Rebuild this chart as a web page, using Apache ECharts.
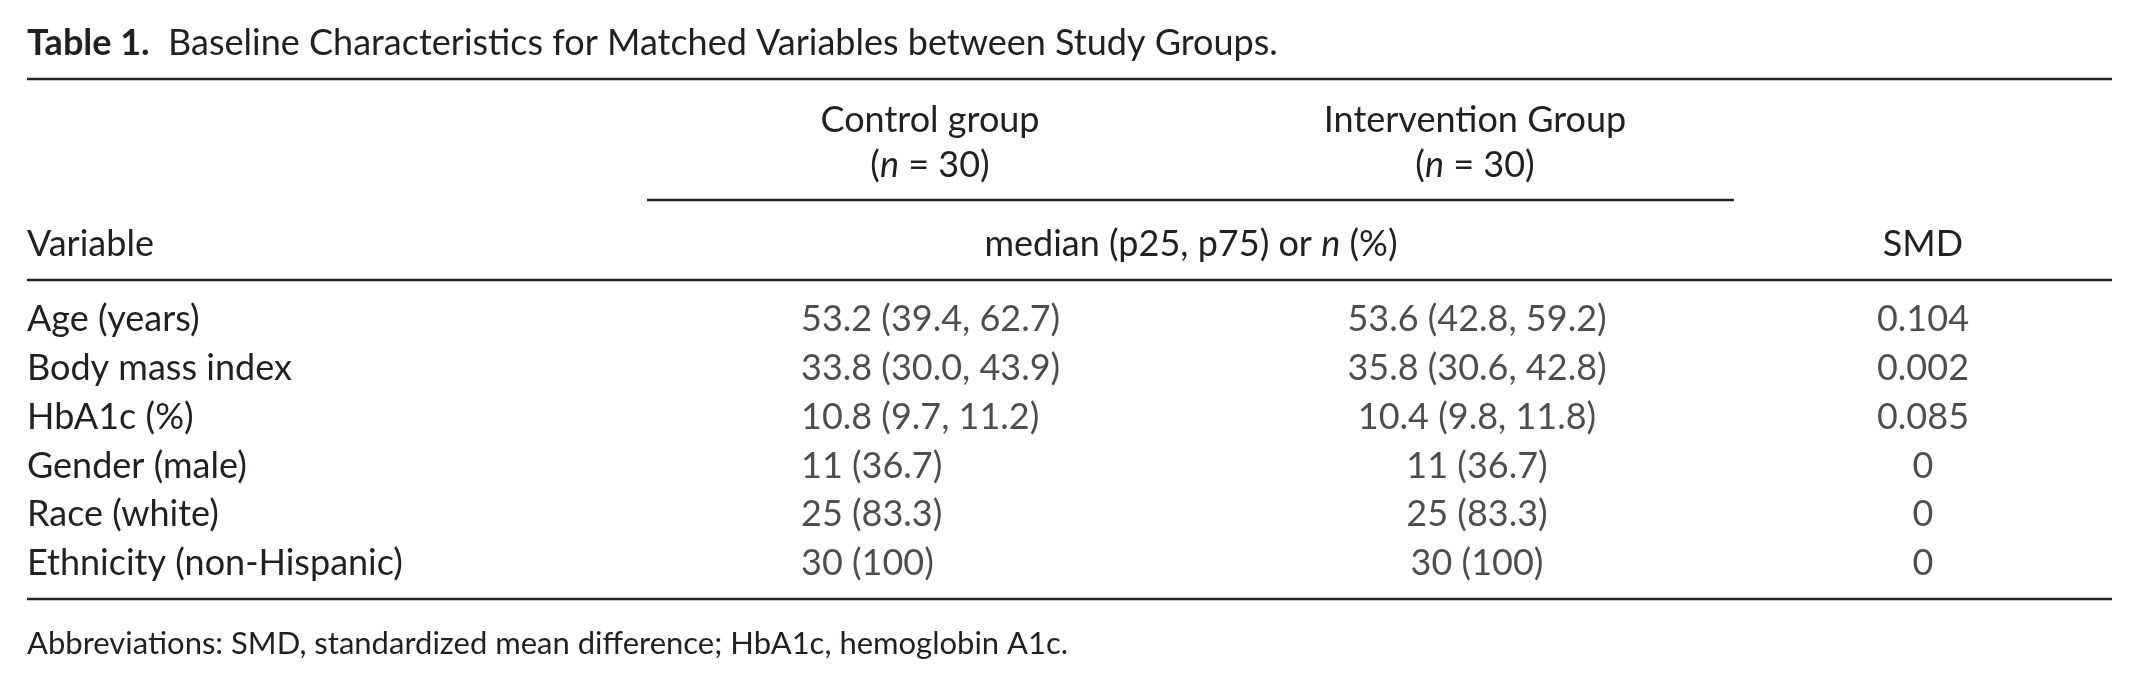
<!doctype html>
<html>
<head>
<meta charset="UTF-8">
<title>Table 1</title>
<script src="https://cdn.jsdelivr.net/npm/echarts@6/dist/echarts.min.js"></script>
<style>
	html, body { margin: 0; padding: 0; background: #fff; }
	#table1 { width: 2139px; height: 687px; }
</style>
</head>
<body>
<div id="table1"></div>
<script>
	// table content
	var variables = ['Age (years)', 'Body mass index', 'HbA1c (%)', 'Gender (male)', 'Race (white)', 'Ethnicity (non-Hispanic)'];
	var controlValues = ['53.2 (39.4, 62.7)', '33.8 (30.0, 43.9)', '10.8 (9.7, 11.2)', '11 (36.7)', '25 (83.3)', '30 (100)'];
	var interventionValues = ['53.6 (42.8, 59.2)', '35.8 (30.6, 42.8)', '10.4 (9.8, 11.8)', '11 (36.7)', '25 (83.3)', '30 (100)'];
	var smdValues = ['0.104', '0.002', '0.085', '0', '0', '0'];
	var groupNames = ['Control group', 'Intervention Group'];
	var groupN = [30, 30];

	var ink = '#231f20';
	var font = 'Lato';
	var bodySize = 36;

	// column anchors in page pixels (x axis spans the whole page)
	var colX = { control: 801, intervention: 1477, smd: 1923 };

	function column(values, x) {
		var out = [];
		for (var i = 0; i < values.length; i++) out.push({ value: [x, i], text: values[i] });
		return out;
	}
	function cellSeries(values, x, align) {
		return {
			type: 'scatter',
			symbolSize: 0,
			silent: true,
			data: column(values, x),
			label: {
				show: true,
				position: 'inside',
				align: align,
				color: ink,
				fontFamily: font,
				fontSize: bodySize,
				formatter: function (p) { return p.data.text; }
			}
		};
	}
	function rule(y, x1, x2) {
		return { type: 'line', shape: { x1: x1, y1: y, x2: x2, y2: y }, style: { stroke: ink, lineWidth: 2.5 } };
	}
	function head(txt, x, y, align) {
		return {
			type: 'text', x: x, y: y,
			style: {
				text: txt, fill: ink, font: bodySize + 'px ' + font,
				align: align || 'center', verticalAlign: 'middle',
				rich: { i: { fontStyle: 'italic', fontFamily: font, fontSize: bodySize, fill: ink } }
			}
		};
	}

	var chart = echarts.init(document.getElementById('table1'));
	chart.setOption({
		animation: false,
		grid: { left: 0, right: 0, top: 295, height: 293 },
		xAxis: { type: 'value', min: 0, max: 2139, show: false },
		yAxis: {
			type: 'category', data: variables, inverse: true,
			axisLine: { show: false }, axisTick: { show: false }, splitLine: { show: false },
			axisLabel: { inside: true, align: 'left', margin: 27, color: ink, fontFamily: font, fontSize: bodySize }
		},
		series: [
			cellSeries(controlValues, colX.control, 'left'),
			cellSeries(interventionValues, colX.intervention, 'center'),
			cellSeries(smdValues, colX.smd, 'center')
		],
		graphic: [
			{
				type: 'text', x: 27, y: 43,
				style: {
					text: '{b|Table 1.}  Baseline Characteristics for Matched Variables between Study Groups.',
					fill: ink, font: bodySize + 'px ' + font, verticalAlign: 'middle',
					rich: { b: { fontWeight: 'bold', fontFamily: font, fontSize: bodySize, fill: ink } }
				}
			},
			rule(79, 27, 2112),
			head(groupNames[0], 930, 120),
			head('({i|n} = ' + groupN[0] + ')', 930, 165),
			head(groupNames[1], 1475, 120),
			head('({i|n} = ' + groupN[1] + ')', 1475, 165),
			rule(200, 647, 1734),
			head('Variable', 27, 244, 'left'),
			head('median (p25, p75) or {i|n} (%)', 1191, 244),
			head('SMD', 1923, 244),
			rule(280, 27, 2112),
			rule(599, 27, 2112),
			{
				type: 'text', x: 27, y: 644,
				style: {
					text: 'Abbreviations: SMD, standardized mean difference; HbA1c, hemoglobin A1c.',
					fill: ink, font: '31px ' + font, verticalAlign: 'middle'
				}
			}
		]
	});
</script>
</body>
</html>
